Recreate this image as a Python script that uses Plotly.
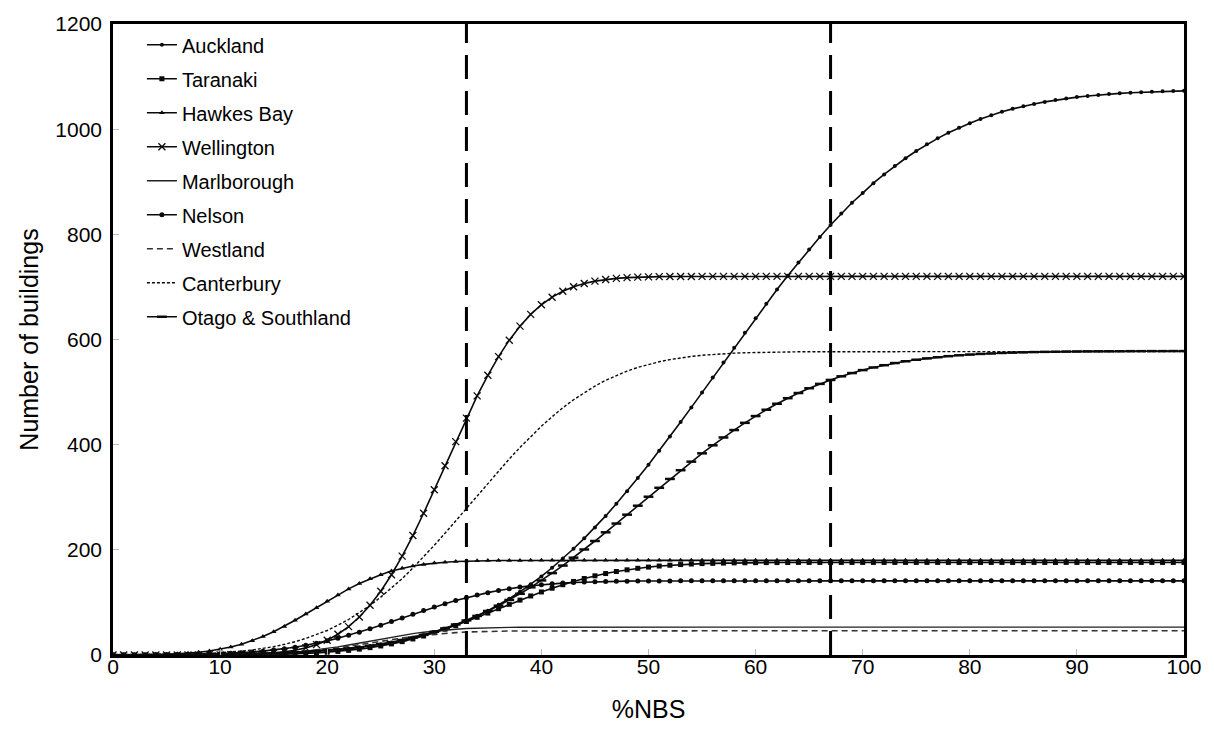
import plotly.graph_objects as go

nbs = list(range(0, 101))

auckland = [
    0.1, 0.1, 0.1, 0.2, 0.2, 0.4, 0.4, 0.5, 0.7, 0.9,
    1.2, 1.5, 1.8, 2.2, 2.7, 3.3, 4.0, 4.9, 5.9, 7.1,
    8.6, 10.4, 12.2, 14.7, 17.1, 20.3, 23.9, 27.8, 32.4, 37.5,
    43.3, 50.1, 57.2, 65.3, 74.8, 84.3, 95.4, 107.2, 120.2, 134.4,
    149.5, 165.9, 183.4, 202.1, 221.9, 242.7, 264.5, 287.6, 311.6, 336.4,
    362.0, 388.3, 415.6, 443.1, 470.9, 499.1, 527.8, 556.2, 584.5, 612.6,
    640.3, 668.1, 695.0, 721.2, 746.5, 771.3, 795.1, 817.9, 839.5, 860.1,
    878.5, 897.2, 913.9, 930.0, 944.7, 958.5, 971.3, 982.5, 993.1, 1002.6,
    1011.4, 1019.3, 1026.5, 1033.0, 1038.6, 1043.6, 1048.0, 1051.9, 1055.4, 1058.4,
    1061.0, 1063.1, 1065.1, 1066.7, 1068.1, 1069.3, 1070.3, 1071.1, 1071.9, 1072.4,
    1072.9,
]

taranaki = [
    0, 0, 0, 0, 0, 0, 0, 0, 0, 0.1,
    0.2, 0.3, 0.4, 0.6, 0.8, 1.2, 1.7, 2.2, 3.0, 4.0,
    5.3, 6.8, 8.8, 11.1, 14.0, 17.2, 21.1, 25.4, 30.5, 36.1,
    42.3, 49.0, 56.1, 63.7, 71.6, 79.7, 88.0, 96.3, 104.4, 112.3,
    119.9, 127.0, 133.7, 139.9, 145.5, 150.6, 154.9, 158.8, 162.0, 164.9,
    167.2, 169.2, 170.7, 172.0, 173.0, 173.8, 174.3, 174.8, 175.2, 175.4,
    175.6, 175.7, 175.8, 175.9, 176, 176, 176, 176, 176, 176,
    176, 176, 176, 176, 176, 176, 176, 176, 176, 176,
    176, 176, 176, 176, 176, 176, 176, 176, 176, 176,
    176, 176, 176, 176, 176, 176, 176, 176, 176, 176,
    176,
]

hawkes_bay = [
    0.1, 0.2, 0.3, 0.5, 0.9, 1.4, 2.3, 3.5, 5.2, 7.7,
    10.9, 15.1, 20.4, 27.3, 35.1, 44.1, 54.3, 66.0, 77.9, 90.0,
    102.2, 114.0, 125.7, 135.9, 144.9, 152.7, 159.6, 164.9, 169.1, 172.3,
    174.8, 176.5, 177.8, 178.6, 179.1, 179.5, 179.7, 179.8, 179.9, 180,
    180, 180, 180, 180, 180, 180, 180, 180, 180, 180,
    180, 180, 180, 180, 180, 180, 180, 180, 180, 180,
    180, 180, 180, 180, 180, 180, 180, 180, 180, 180,
    180, 180, 180, 180, 180, 180, 180, 180, 180, 180,
    180, 180, 180, 180, 180, 180, 180, 180, 180, 180,
    180, 180, 180, 180, 180, 180, 180, 180, 180, 180,
    180,
]

wellington = [
    0, 0, 0, 0, 0, 0, 0, 0, 0.1, 0.2,
    0.3, 0.5, 0.9, 1.4, 2.4, 3.8, 5.9, 9.0, 13.5, 19.7,
    28.2, 39.5, 53.9, 72.2, 94.6, 121.3, 152.6, 188.0, 227.2, 269.6,
    314.2, 360.0, 405.8, 450.4, 492.8, 532.0, 567.4, 598.7, 625.4, 647.8,
    666.1, 680.5, 691.8, 700.3, 706.5, 711.0, 714.1, 716.3, 717.6, 718.6,
    719.1, 719.5, 719.7, 719.8, 719.9, 720, 720, 720, 720, 720,
    720, 720, 720, 720, 720, 720, 720, 720, 720, 720,
    720, 720, 720, 720, 720, 720, 720, 720, 720, 720,
    720, 720, 720, 720, 720, 720, 720, 720, 720, 720,
    720, 720, 720, 720, 720, 720, 720, 720, 720, 720,
    720,
]

marlborough = [
    0, 0, 0, 0, 0, 0, 0, 0, 0.1, 0.2,
    0.3, 0.5, 0.8, 1.2, 1.8, 2.7, 3.9, 5.4, 7.3, 9.6,
    12.4, 15.5, 19.0, 22.7, 26.5, 30.3, 34.0, 37.5, 40.6, 43.4,
    45.7, 47.6, 49.1, 50.3, 51.2, 51.8, 52.2, 52.5, 52.7, 52.8,
    52.9, 53, 53, 53, 53, 53, 53, 53, 53, 53,
    53, 53, 53, 53, 53, 53, 53, 53, 53, 53,
    53, 53, 53, 53, 53, 53, 53, 53, 53, 53,
    53, 53, 53, 53, 53, 53, 53, 53, 53, 53,
    53, 53, 53, 53, 53, 53, 53, 53, 53, 53,
    53, 53, 53, 53, 53, 53, 53, 53, 53, 53,
    53,
]

nelson = [
    0.1, 0.1, 0.1, 0.2, 0.3, 0.4, 0.6, 0.9, 1.2, 1.7,
    2.4, 3.2, 4.3, 5.7, 7.3, 9.4, 11.9, 14.9, 18.4, 22.4,
    26.9, 32.0, 37.5, 43.5, 49.9, 56.6, 63.5, 70.5, 77.5, 84.4,
    91.1, 97.5, 103.5, 109.0, 114.1, 118.6, 122.6, 126.1, 129.1, 131.6,
    133.7, 135.3, 136.7, 137.8, 138.6, 139.3, 139.8, 140.1, 140.4, 140.6,
    140.7, 140.8, 140.9, 141, 141, 141, 141, 141, 141, 141,
    141, 141, 141, 141, 141, 141, 141, 141, 141, 141,
    141, 141, 141, 141, 141, 141, 141, 141, 141, 141,
    141, 141, 141, 141, 141, 141, 141, 141, 141, 141,
    141, 141, 141, 141, 141, 141, 141, 141, 141, 141,
    141,
]

westland = [
    0, 0, 0, 0, 0, 0, 0, 0, 0.1, 0.2,
    0.3, 0.4, 0.7, 1.0, 1.6, 2.3, 3.3, 4.7, 6.3, 8.4,
    10.7, 13.5, 16.5, 19.7, 23.0, 26.3, 29.5, 32.5, 35.3, 37.6,
    39.7, 41.3, 42.6, 43.7, 44.4, 45.0, 45.3, 45.6, 45.7, 45.8,
    45.9, 46, 46, 46, 46, 46, 46, 46, 46, 46,
    46, 46, 46, 46, 46, 46, 46, 46, 46, 46,
    46, 46, 46, 46, 46, 46, 46, 46, 46, 46,
    46, 46, 46, 46, 46, 46, 46, 46, 46, 46,
    46, 46, 46, 46, 46, 46, 46, 46, 46, 46,
    46, 46, 46, 46, 46, 46, 46, 46, 46, 46,
    46,
]

canterbury = [
    0.1, 0.2, 0.3, 0.4, 0.6, 0.9, 1.3, 1.7, 2.3, 3.2,
    4.2, 5.7, 7.4, 9.6, 12.5, 15.8, 20.3, 25.2, 31.6, 38.5,
    46.6, 56.8, 67.5, 80.8, 94.3, 110.1, 127.3, 145.1, 165.5, 186.7,
    208.7, 231.5, 255.0, 278.9, 302.9, 326.8, 350.1, 372.9, 394.7, 415.4,
    435.1, 453.1, 470.2, 485.4, 499.2, 511.5, 522.4, 531.8, 539.9, 546.9,
    552.9, 557.6, 561.8, 565.1, 567.8, 570.0, 571.6, 573.0, 574.0, 574.8,
    575.4, 575.8, 576.2, 576.4, 576.6, 576.7, 576.8, 576.9, 577, 577,
    577, 577, 577, 577, 577, 577, 577, 577, 577, 577,
    577, 577, 577, 577, 577, 577, 577, 577, 577, 577,
    577, 577, 577, 577, 577, 577, 577, 577, 577, 577,
    577,
]

otago_southland = [
    0.1, 0.1, 0.1, 0.2, 0.2, 0.3, 0.4, 0.5, 0.6, 0.8,
    1.0, 1.3, 1.7, 2.1, 2.6, 3.2, 3.9, 4.9, 5.9, 7.2,
    8.7, 10.3, 12.5, 14.8, 17.6, 20.8, 24.4, 28.5, 33.1, 38.3,
    44.2, 50.6, 58.0, 65.7, 74.3, 83.7, 93.8, 104.7, 116.4, 128.7,
    141.8, 155.7, 170.1, 185.1, 200.7, 216.8, 233.3, 250.0, 266.9, 283.9,
    301.0, 318.0, 334.8, 351.4, 367.7, 383.5, 398.8, 413.7, 427.8, 441.5,
    454.4, 466.4, 477.8, 488.4, 498.2, 507.3, 515.6, 523.1, 530.0, 536.2,
    541.8, 546.8, 551.1, 555.2, 558.6, 561.5, 564.1, 566.3, 568.3, 570.0,
    571.4, 572.6, 573.5, 574.4, 575.1, 575.6, 576.1, 576.5, 576.8, 577.1,
    577.2, 577.4, 577.5, 577.6, 577.7, 577.8, 577.8, 577.9, 577.9, 578,
    578,
]

thresholds = [33, 67]
x_ticks = [0, 10, 20, 30, 40, 50, 60, 70, 80, 90, 100]
y_ticks = [0, 200, 400, 600, 800, 1000, 1200]

FONT = "Liberation Sans, Arial, sans-serif"
INK = "#0a0a0a"

series = [
    ("Auckland", auckland, dict(mode="lines+markers", line=dict(color=INK, width=1.6),
                                marker=dict(symbol="circle", size=4, color=INK))),
    ("Taranaki", taranaki, dict(mode="lines+markers", line=dict(color=INK, width=1.6),
                                marker=dict(symbol="square", size=5, color=INK))),
    ("Hawkes Bay", hawkes_bay, dict(mode="lines+markers", line=dict(color=INK, width=1.6),
                                    marker=dict(symbol="triangle-up", size=5, color=INK))),
    ("Wellington", wellington, dict(mode="lines+markers", line=dict(color=INK, width=1.6),
                                    marker=dict(symbol="x-thin", size=7, color=INK,
                                                line=dict(color=INK, width=1.3)))),
    ("Marlborough", marlborough, dict(mode="lines", line=dict(color="#222", width=1.4))),
    ("Nelson", nelson, dict(mode="lines+markers", line=dict(color=INK, width=1.6),
                            marker=dict(symbol="circle", size=5, color=INK))),
    ("Westland", westland, dict(mode="lines", line=dict(color="#333", width=1.6, dash="6px,4px"))),
    ("Canterbury", canterbury, dict(mode="lines", line=dict(color=INK, width=1.4, dash="3px,2px"))),
    ("Otago & Southland", otago_southland, dict(mode="lines+markers", line=dict(color=INK, width=1.6),
                                                marker=dict(symbol="line-ew", size=7, color=INK,
                                                            line=dict(color=INK, width=2.5)))),
]

fig = go.Figure()
for i, (name, vals, style) in enumerate(series):
    fig.add_trace(go.Scatter(x=nbs, y=vals, name=name, legendgroup=f"g{i}", **style))

for t in thresholds:
    fig.add_shape(type="line", xref="x", yref="paper", x0=t, x1=t, y0=0, y1=1,
                  line=dict(color="black", width=3, dash="24px,12px"))

fig.update_layout(
    width=1214, height=731,
    margin=dict(l=113, r=18, t=18, b=76),
    paper_bgcolor="white", plot_bgcolor="white",
    font=dict(family=FONT, size=21, color="black"),
    showlegend=True,
    legend=dict(x=0.027, y=0.998, xanchor="left", yanchor="top",
                bgcolor="rgba(0,0,0,0)", borderwidth=0,
                font=dict(size=20, family=FONT), tracegroupgap=5),
)
fig.update_xaxes(range=[0, 100], tickvals=x_ticks, showgrid=False, zeroline=False,
                 showline=True, mirror=True, linecolor="black", linewidth=2.5,
                 ticks="inside", ticklen=6, tickcolor="#bbb", tickwidth=1,
                 tickfont=dict(size=21, family=FONT), ticklabelstandoff=-9,
                 title=dict(text="%NBS", font=dict(size=25, family=FONT), standoff=24))
fig.update_yaxes(range=[0, 1200], tickvals=y_ticks, showgrid=False, zeroline=False,
                 showline=True, mirror=True, linecolor="black", linewidth=2.5,
                 ticks="inside", ticklen=6, tickcolor="#bbb", tickwidth=1,
                 tickfont=dict(size=21, family=FONT), ticklabelstandoff=4,
                 title=dict(text="Number of buildings", font=dict(size=25, family=FONT), standoff=10))

fig.write_html("out.html")
